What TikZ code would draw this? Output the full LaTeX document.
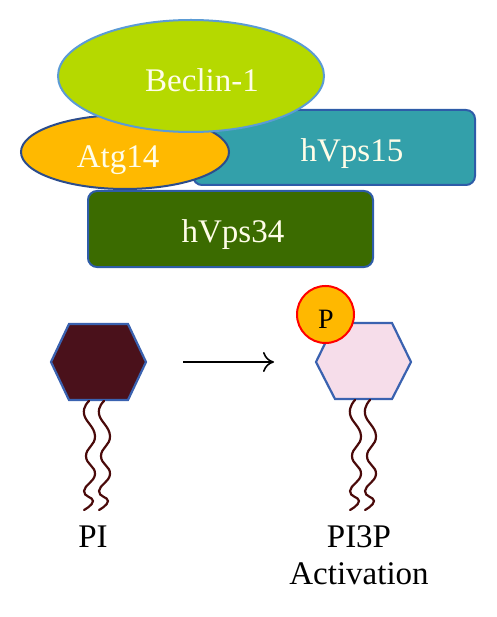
\documentclass[tikz,border=0pt]{standalone}
\usepackage{fontspec}
\setmainfont{Liberation Serif}
\usetikzlibrary{shapes.geometric,arrows.meta}
\definecolor{beclin}{HTML}{B5D900}
\definecolor{beclinb}{HTML}{5B9BD5}
\definecolor{atg}{HTML}{FFB900}
\definecolor{atgb}{HTML}{2B4C8C}
\definecolor{vpsf}{HTML}{33A0AA}
\definecolor{vpst}{HTML}{3B6B00}
\definecolor{boxb}{HTML}{2E5CA8}
\definecolor{cream}{HTML}{FFFDE8}
\definecolor{maroon}{HTML}{4A111B}
\definecolor{pinkf}{HTML}{F6DDEA}
\definecolor{hexb}{HTML}{3A62B0}
\definecolor{tail}{HTML}{4A0A0A}
\definecolor{pcirc}{HTML}{FFB800}
\tikzset{
  prot/.style={line width=2pt, inner sep=0pt},
  lbl/.style={text=cream, font=\fontsize{33}{38}\selectfont, anchor=base},
  blk/.style={text=black, font=\fontsize{33}{38}\selectfont, anchor=base},
  tailline/.style={draw=tail, line width=2.2pt, line cap=round},
  hexa/.style={draw=hexb, line width=2.2pt, line join=miter}
}
\begin{document}
\begin{tikzpicture}[x=1pt,y=-1pt]
\useasboundingbox (0,0) rectangle (496,617);
% protein complex
\node[prot, draw=boxb, fill=vpst, rounded corners=9pt, minimum width=285pt, minimum height=76pt] (vps34) at (230.5,229) {};
\node[prot, draw=boxb, fill=vpsf, rounded corners=9pt, minimum width=282pt, minimum height=75pt] (vps15) at (334,147.5) {};
\node[prot, ellipse, draw=atgb, fill=atg, minimum width=208pt, minimum height=74pt] (atg14) at (125,152) {};
\node[prot, ellipse, draw=beclinb, fill=beclin, minimum width=266pt, minimum height=112pt] (beclin) at (191,76) {};
\node[lbl] (tbeclin) at (202,92) {Beclin-1};
\node[lbl] (tatg) at (118,168) {Atg14};
\node[lbl] (tvps15) at (352,162) {hVps15};
\node[lbl] (tvps34) at (233,243) {hVps34};
% PI
\coordinate (pi) at (98.5,362);
\draw[hexa, fill=maroon] (51,362) -- (69,324) -- (128,324) -- (146,362) -- (128,400) -- (69,400) -- cycle;
\draw[tailline] plot[smooth, tension=0.8] coordinates {(89,401) (84,414) (95,436) (86,456) (95,474) (84,491) (93,501) (84,510)};
\draw[tailline] plot[smooth, tension=0.8] coordinates {(104,401) (99,414) (110,436) (101,456) (110,474) (99,491) (108,501) (99,510)};
\node[blk] (tpi) at (93,547) {PI};
% PI3P
\coordinate (pi3p) at (363.5,362);
\draw[hexa, fill=pinkf] (316,362) -- (335,323) -- (392,323) -- (411,362) -- (392,399) -- (335,399) -- cycle;
\draw[tailline] plot[smooth, tension=0.8] coordinates {(355,400) (350,414) (361,436) (352,456) (361,474) (350,491) (359,501) (350,510)};
\draw[tailline] plot[smooth, tension=0.8] coordinates {(370,400) (365,414) (376,436) (367,456) (376,474) (365,491) (374,501) (365,510)};
\node[circle, draw=red, line width=2pt, fill=pcirc, minimum size=57pt, inner sep=0pt] (p) at (325.5,314.5) {};
\node[text=black, font=\fontsize{28}{32}\selectfont, anchor=base] (tp) at (326,328) {P};
\node[blk] (tpi3p) at (359,547) {PI3P};
\node[blk] (tact) at (359,584) {Activation};
% arrow
\coordinate (a1) at (183,362);
\coordinate (a2) at (274,362);
\draw[line width=1.6pt, -{To[length=11pt,width=20pt]}] (a1) -- (a2);
\end{tikzpicture}
\end{document}
